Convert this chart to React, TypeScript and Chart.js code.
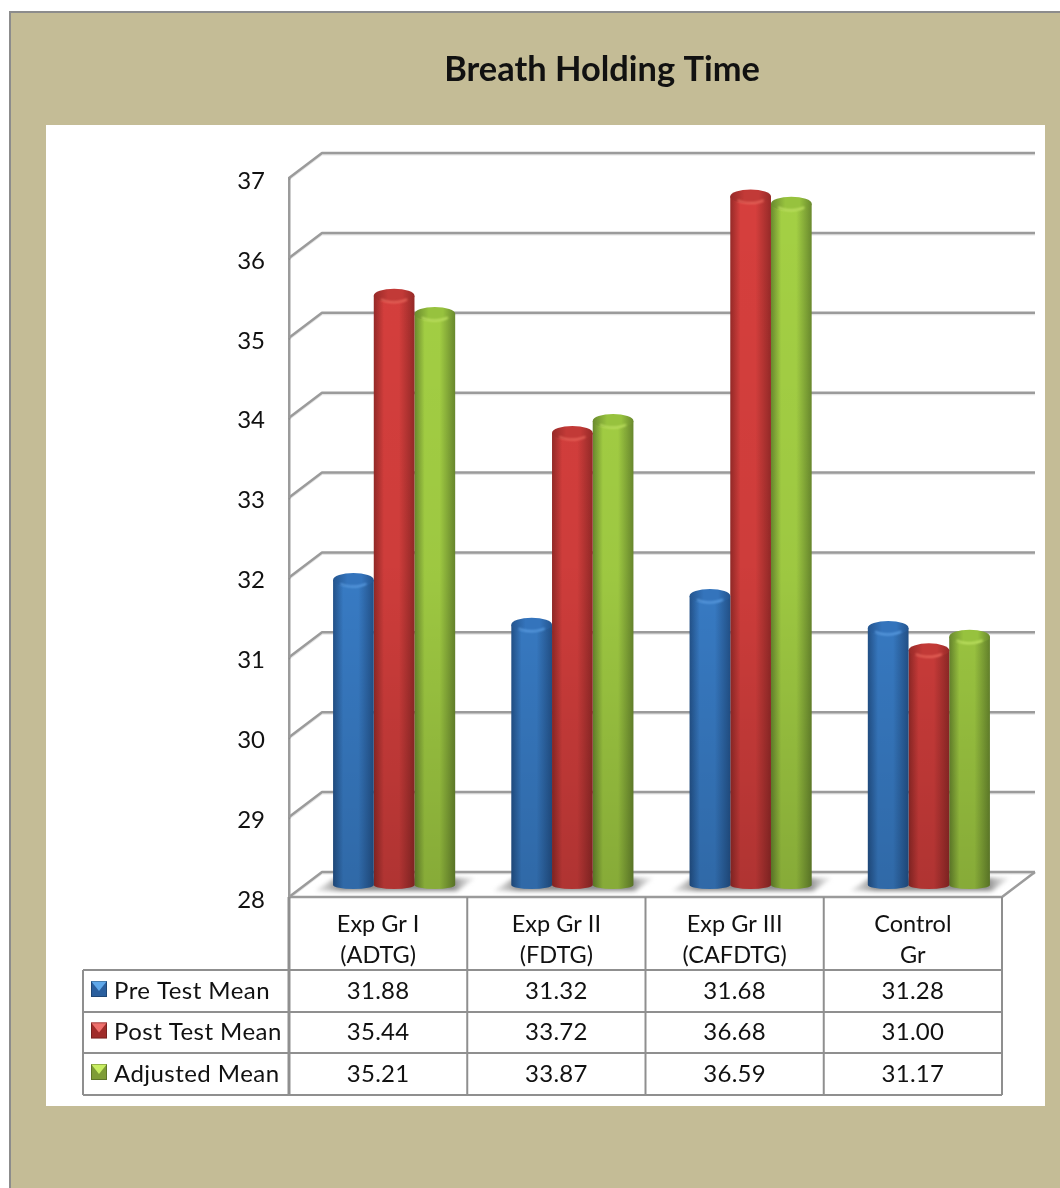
import React, { useEffect, useRef } from "react";
import { Chart, registerables } from "chart.js";

Chart.register(...registerables);

const TITLE = "Breath Holding Time";
const GROUPS = [["Exp Gr I", "(ADTG)"], ["Exp Gr II", "(FDTG)"], ["Exp Gr III", "(CAFDTG)"], ["Control", "Gr"]];
const SERIES_NAMES = ["Pre Test Mean", "Post Test Mean", "Adjusted Mean"];
const PRE_TEST = [31.88, 31.32, 31.68, 31.28];
const POST_TEST = [35.44, 33.72, 36.68, 31.0];
const ADJUSTED = [35.21, 33.87, 36.59, 31.17];

const FONT = "Lato, Carlito, sans-serif";
const LINE = "#9b9b9b";
const TABLE_LINE = "#8f8f8f";
const INK = "#111111";

// edge, core and highlight shades of each cylinder
const PALETTE = [
  { edge: "#24558f", core: "#3a80cc", rim: "#5c9ee2", cap: "#3474bc", swatch: "#2a5f9e", light: "#5fa8ea" },
  { edge: "#962a28", core: "#d63f3d", rim: "#e9675c", cap: "#c23a37", swatch: "#a02c2a", light: "#ef6f6c" },
  { edge: "#6a8a2e", core: "#a4d044", rim: "#c0e264", cap: "#97c23e", swatch: "#7e9c36", light: "#c8ee62" },
];

// plane shifts relative to the front edge of the floor
const DEPTH = { x: 33, y: -25 };
const BAR_PLANE = { x: 16, y: -7 };

const LEGEND_LEFT = 83;
const ROW_LINES = [970, 1012, 1053, 1095];

function drawCylinder(ctx: CanvasRenderingContext2D, el: any, idx: number, top: number, bottom: number) {
  const colors = PALETTE[idx];
  const half = el.width / 2;
  const left = el.x - half;
  const right = el.x + half;
  const capY = el.y;
  const footY = bottom - 5;
  const capR = 7;

  const side = ctx.createLinearGradient(left, 0, right, 0);
  side.addColorStop(0, colors.edge);
  side.addColorStop(0.25, colors.core);
  side.addColorStop(0.62, colors.core);
  side.addColorStop(1, colors.edge);
  ctx.beginPath();
  ctx.moveTo(left, capY);
  ctx.lineTo(left, footY);
  ctx.ellipse(el.x, footY, half, 4, 0, Math.PI, 0, true);
  ctx.lineTo(right, capY);
  ctx.closePath();
  ctx.fillStyle = side;
  ctx.fill();

  const shade = ctx.createLinearGradient(0, top, 0, bottom);
  shade.addColorStop(0, "rgba(0,0,0,0)");
  shade.addColorStop(0.55, "rgba(0,0,0,0.04)");
  shade.addColorStop(1, "rgba(0,0,0,0.18)");
  ctx.fillStyle = shade;
  ctx.fill();

  const cap = ctx.createLinearGradient(left, 0, right, 0);
  cap.addColorStop(0, colors.edge);
  cap.addColorStop(0.35, colors.cap);
  cap.addColorStop(0.7, colors.cap);
  cap.addColorStop(1, colors.edge);
  ctx.beginPath();
  ctx.ellipse(el.x, capY, half, capR, 0, 0, Math.PI * 2);
  ctx.fillStyle = cap;
  ctx.fill();

  ctx.save();
  ctx.filter = "blur(1px)";
  ctx.beginPath();
  ctx.ellipse(el.x, capY + 0.5, half - 5, capR - 1, 0, Math.PI * 0.18, Math.PI * 0.82);
  ctx.strokeStyle = colors.rim;
  ctx.lineWidth = 2;
  ctx.stroke();
  ctx.restore();
}

function drawSwatch(ctx: CanvasRenderingContext2D, x: number, y: number, idx: number) {
  const colors = PALETTE[idx];
  const size = 16;
  ctx.fillStyle = colors.swatch;
  ctx.fillRect(x, y, size, size);
  ctx.beginPath();
  ctx.moveTo(x, y);
  ctx.lineTo(x + size, y);
  ctx.lineTo(x + size / 2, y + size * 0.62);
  ctx.closePath();
  ctx.fillStyle = colors.light;
  ctx.fill();
  ctx.strokeStyle = "rgba(0,0,0,0.25)";
  ctx.lineWidth = 1;
  ctx.strokeRect(x + 0.5, y + 0.5, size - 1, size - 1);
}

// 3-D walls, floor and floor shadows behind the bars; cylinders replace the default rectangles
const cylinderPlugin = {
  id: "cylinders",
  beforeDraw(chart: any) {
    const { ctx, width, height } = chart;
    ctx.save();
    ctx.fillStyle = "#ffffff";
    ctx.fillRect(0, 0, width, height);
    ctx.fillStyle = "#c4bc96";
    ctx.fillRect(10, 12, width - 10, height - 12);
    ctx.fillStyle = "#8c8c8c";
    ctx.fillRect(9, 11, width - 9, 2);
    ctx.fillRect(9, 11, 2, height - 11);
    ctx.fillStyle = "#ffffff";
    ctx.fillRect(46, 125, 999, 981);
    ctx.font = `bold 34.4px ${FONT}`;
    ctx.fillStyle = INK;
    ctx.textAlign = "center";
    ctx.textBaseline = "middle";
    ctx.fillText(TITLE, 602, 70);
    ctx.restore();
  },
  beforeDatasetsDraw(chart: any) {
    const { ctx, chartArea, scales } = chart;
    const { left, right, bottom } = chartArea;
    ctx.save();
    ctx.lineJoin = "round";
    const strokeWall = (y: number) => {
      ctx.beginPath();
      ctx.moveTo(left, y);
      ctx.lineTo(left + DEPTH.x, y + DEPTH.y);
      ctx.lineTo(right + DEPTH.x, y + DEPTH.y);
      ctx.stroke();
    };
    // faint under-edge first, then the line itself
    ctx.strokeStyle = "rgba(0,0,0,0.1)";
    ctx.lineWidth = 2;
    for (const tick of scales.y.ticks) strokeWall(scales.y.getPixelForValue(tick.value) + 1.5);
    ctx.strokeStyle = LINE;
    ctx.lineWidth = 2.5;
    for (const tick of scales.y.ticks) strokeWall(scales.y.getPixelForValue(tick.value));
    ctx.beginPath();
    ctx.moveTo(right + DEPTH.x, bottom + DEPTH.y);
    ctx.lineTo(right, bottom);
    ctx.lineTo(left, bottom);
    ctx.stroke();

    // soft shadow that each group throws on the floor
    ctx.filter = "blur(2px)";
    const first = chart.getDatasetMeta(0).data;
    const last = chart.getDatasetMeta(2).data;
    first.forEach((el: any, i: number) => {
      const l = el.x - el.width / 2 + BAR_PLANE.x;
      const r = last[i].x + last[i].width / 2 + BAR_PLANE.x;
      const grad = ctx.createLinearGradient(l - 18, 0, r + 20, 0);
      grad.addColorStop(0, "rgba(190,190,190,0.35)");
      grad.addColorStop(0.16, "rgba(110,110,110,0.8)");
      grad.addColorStop(0.86, "rgba(110,110,110,0.8)");
      grad.addColorStop(1, "rgba(200,200,200,0.3)");
      ctx.fillStyle = grad;
      ctx.beginPath();
      ctx.moveTo(l + 2, bottom - 19);
      ctx.lineTo(r + 20, bottom - 19);
      ctx.lineTo(r + 2, bottom - 6);
      ctx.lineTo(l - 18, bottom - 6);
      ctx.closePath();
      ctx.fill();
    });
    ctx.filter = "none";
    ctx.restore();
  },
  beforeDatasetDraw(chart: any, args: any) {
    const { ctx, chartArea } = chart;
    ctx.save();
    ctx.translate(BAR_PLANE.x, BAR_PLANE.y);
    args.meta.data.forEach((el: any) => drawCylinder(ctx, el, args.index, chartArea.top, chartArea.bottom));
    ctx.restore();
    return false;
  },
  afterDraw(chart: any) {
    const { ctx, chartArea, scales } = chart;
    const { left, right, bottom } = chartArea;
    const edges = scales.x.ticks.map((_: any, i: number) => scales.x.getPixelForValue(i) - (right - left) / 8);
    edges.push(right);
    ctx.save();
    ctx.strokeStyle = TABLE_LINE;
    ctx.lineWidth = 2;
    edges.slice(1).forEach((x: number) => {
      ctx.beginPath();
      ctx.moveTo(x, bottom);
      ctx.lineTo(x, ROW_LINES[3]);
      ctx.stroke();
    });
    ctx.lineWidth = 3;
    ctx.beginPath();
    ctx.moveTo(left, bottom);
    ctx.lineTo(left, ROW_LINES[3]);
    ctx.stroke();
    ctx.lineWidth = 2;
    ROW_LINES.forEach((y) => {
      ctx.beginPath();
      ctx.moveTo(LEGEND_LEFT, y);
      ctx.lineTo(right, y);
      ctx.stroke();
    });
    ctx.beginPath();
    ctx.moveTo(LEGEND_LEFT, ROW_LINES[0]);
    ctx.lineTo(LEGEND_LEFT, ROW_LINES[3]);
    ctx.stroke();

    ctx.textBaseline = "middle";
    ctx.textAlign = "center";
    ctx.fillStyle = INK;
    ctx.font = `23.5px ${FONT}`;
    GROUPS.forEach((lines, i) => {
      const cx = scales.x.getPixelForValue(i);
      ctx.fillText(lines[0], cx, 924);
      ctx.fillText(lines[1], cx, 955);
    });
    ctx.font = `24px ${FONT}`;
    chart.data.datasets.forEach((ds: any, row: number) => {
      const midY = (ROW_LINES[row] + ROW_LINES[row + 1]) / 2;
      ctx.fillStyle = INK;
      ctx.letterSpacing = "0.3px";
      ds.data.forEach((v: number, i: number) => {
        ctx.fillText(v.toFixed(2), scales.x.getPixelForValue(i), midY);
      });
      ctx.textAlign = "left";
      ctx.letterSpacing = "0.45px";
      ctx.fillText(SERIES_NAMES[row], 114, midY);
      ctx.textAlign = "center";
      drawSwatch(ctx, 91, midY - 10, row);
    });
    ctx.restore();
  },
};

export default function App() {
  const ref = useRef<HTMLCanvasElement>(null);

  useEffect(() => {
    const seriesValues = [PRE_TEST, POST_TEST, ADJUSTED];
    const chart = new Chart(ref.current!, {
      type: "bar",
      data: {
        labels: GROUPS.map((g) => g.join(" ")),
        datasets: SERIES_NAMES.map((label, i) => ({
          label,
          data: seriesValues[i],
          backgroundColor: PALETTE[i].core,
          categoryPercentage: 0.685,
          barPercentage: 1,
        })),
      },
      options: {
        responsive: false,
        animation: false,
        layout: { padding: { left: 0, top: 178, right: 58, bottom: 291 } },
        plugins: { legend: { display: false }, title: { display: false }, tooltip: { enabled: false } },
        scales: {
          x: { display: false },
          y: {
            min: 28,
            max: 37,
            afterFit: (scale: any) => {
              scale.width = 289;
            },
            grid: { display: false, drawTicks: false },
            border: { display: true, color: LINE, width: 2.5 },
            ticks: {
              stepSize: 1,
              padding: 24,
              labelOffset: 3,
              color: INK,
              font: { family: FONT, size: 24 },
            },
          },
        },
      },
      plugins: [cylinderPlugin],
    } as any);
    return () => chart.destroy();
  }, []);

  return (
    <div style={{ position: "absolute", left: 0, top: 0, width: 1060, height: 1188 }}>
      <canvas ref={ref} width={1060} height={1188} style={{ display: "block" }} />
    </div>
  );
}
